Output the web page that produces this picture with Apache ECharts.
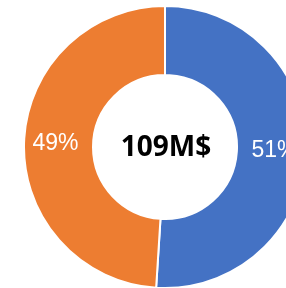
<!DOCTYPE html>
<html lang="en">
<head>
    <meta charset="UTF-8">
    <title>Donut</title>
    <script src="https://cdn.jsdelivr.net/npm/echarts@6/dist/echarts.min.js"></script>
    <style type="text/css">
    html, body { margin: 0; padding: 0; background: #fff; }
    #main { width: 286px; height: 288px; }
    </style>
</head>
<body>
    <div id="main"></div>
    <script type="text/javascript">
        // chart data
        var categories = ['Part A', 'Part B'];
        var values = [51, 49];
        var totalLabel = '109M$';

        var colors = ['#4472C4', '#ED7D31'];

        var pieData = [];
        for (var i = 0; i < categories.length; i++) {
            pieData.push({ name: categories[i], value: values[i] });
        }

        var myChart = echarts.init(document.getElementById('main'));
        var option = {
            animation: false,
            color: colors,
            graphic: [{
                type: 'text',
                x: 166,
                y: 148,
                style: {
                    text: totalLabel,
                    fill: '#000',
                    font: 'bold 28px "Noto Sans"',
                    textAlign: 'center',
                    textVerticalAlign: 'middle'
                }
            }],
            series: [{
                type: 'pie',
                center: [165, 147],
                radius: [72, 141],
                startAngle: 90,
                clockwise: true,
                itemStyle: {
                    borderColor: '#fff',
                    borderWidth: 2
                },
                label: {
                    show: true,
                    position: 'inside',
                    formatter: '{d}%',
                    color: '#fff',
                    fontFamily: 'Liberation Sans',
                    fontSize: 23
                },
                labelLine: { show: false },
                emphasis: { disabled: true },
                data: pieData
            }]
        };
        myChart.setOption(option);
    </script>
</body>
</html>
